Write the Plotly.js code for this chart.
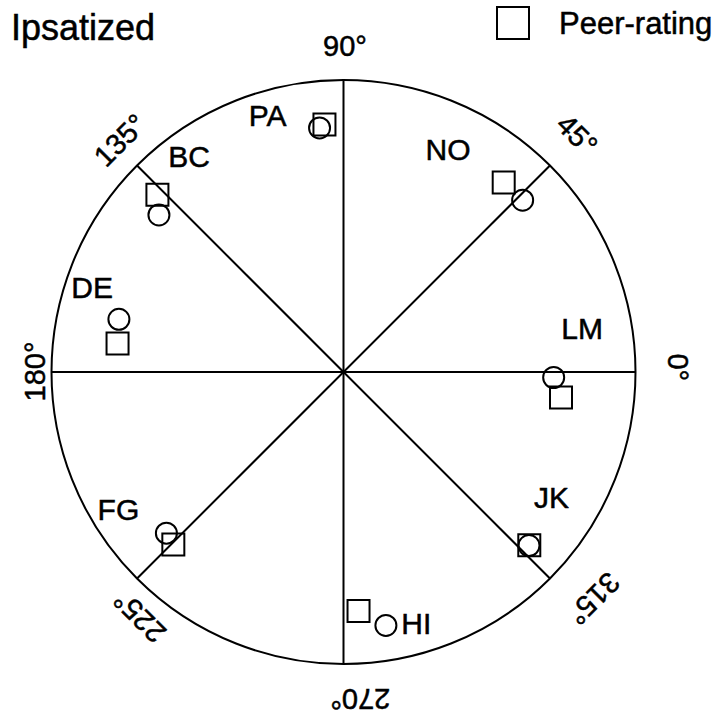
<!DOCTYPE html>
<html>
<head>
<meta charset="utf-8">
<script src="https://cdn.plot.ly/plotly-3.0.1.min.js"></script>
<style>
html,body{margin:0;padding:0;background:#fff;}
#chart{width:717px;height:717px;}
#chart text{stroke:#000;stroke-width:0.5px;}
</style>
</head>
<body>
<div id="chart"></div>
<script>
// ---- data ----
const subjects = ['PA', 'BC', 'NO', 'DE', 'LM', 'FG', 'JK', 'HI'];
const ipsatizedTheta = [95.6, 139.6, 43.8, 166.8, 358.5, 222.3, 316.9, 279.5];
const ipsatizedR     = [0.84, 0.83, 0.85, 0.79, 0.72, 0.82, 0.87, 0.88];
const peerTheta      = [94.4, 136.4, 49.8, 172.8, 353.3, 225.4, 317.0, 273.6];
const peerR          = [0.85, 0.88, 0.85, 0.78, 0.75, 0.83, 0.87, 0.82];
const labelTheta     = [106.7, 126, 64.5, 162, 9.7, 212, 328.3, 286];
const labelR         = [0.905, 0.90, 0.832, 0.905, 0.829, 0.909, 0.837, 0.905];
const angleTicks     = [0, 45, 90, 135, 180, 225, 270, 315];
const angleTickText  = ['0°', '45°', '90°', '135°', '180°', '225°', '270°', '315°'];
const titleText  = 'Ipsatized';
const legendText = 'Peer-rating';

// ---- layout geometry ----
const W = 717, H = 717;
const cx = 343.5, cy = 372, R = 292;
const FONT = 'Liberation Sans, Arial, Helvetica, sans-serif';
// placement of the rotated angle labels outside the circle (pixels from centre, angle nudge)
const tickLabelDist  = [335, 333, 326, 322, 309, 318, 328, 337];
const tickLabelNudge = [0.7, 0.4, -0.3, -1.1, 0, 5.2, 3, 2.8];

const traces = [
  {
    type: 'scatterpolar', mode: 'markers', name: legendText, showlegend: false,
    r: peerR, theta: peerTheta,
    marker: {symbol: 'square-open', size: 22, color: '#000', line: {width: 2, color: '#000'}},
    cliponaxis: false
  },
  {
    type: 'scatterpolar', mode: 'markers', name: titleText, showlegend: false,
    r: ipsatizedR, theta: ipsatizedTheta,
    marker: {symbol: 'circle-open', size: 21, color: '#000', line: {width: 2, color: '#000'}},
    cliponaxis: false
  },
  {
    type: 'scatterpolar', mode: 'text', showlegend: false,
    r: labelR, theta: labelTheta, text: subjects,
    textposition: 'middle center',
    textfont: {family: FONT, size: 30, color: '#000'},
    cliponaxis: false
  }
];

// rotated angular tick labels as annotations
const annotations = angleTicks.map((a, i) => {
  const rad = (a + tickLabelNudge[i]) * Math.PI / 180;
  const rr = tickLabelDist[i];
  const px = cx + rr * Math.cos(rad);
  const py = cy - rr * Math.sin(rad);
  let ang = 90 - a;
  ang = ((ang + 180) % 360 + 360) % 360 - 180;
  return {
    xref: 'paper', yref: 'paper', x: px / W, y: 1 - py / H,
    xanchor: 'center', yanchor: 'middle', showarrow: false,
    text: angleTickText[i], textangle: ang,
    font: {family: FONT, size: 29, color: '#000'}
  };
});
annotations.push({
  xref: 'paper', yref: 'paper', x: 9 / W, y: 1 - 5 / H,
  xanchor: 'left', yanchor: 'top', showarrow: false,
  text: titleText, font: {family: FONT, size: 36, color: '#000'}
});
annotations.push({
  xref: 'paper', yref: 'paper', x: 557 / W, y: 1 - 23 / H,
  xanchor: 'left', yanchor: 'middle', showarrow: false,
  text: legendText, font: {family: FONT, size: 31, color: '#000'}
});

const layout = {
  width: W, height: H, autosize: false,
  margin: {l: 0, r: 0, t: 0, b: 0, pad: 0},
  paper_bgcolor: '#fff', plot_bgcolor: '#fff',
  showlegend: false,
  polar: {
    domain: {x: [(cx - R) / W, (cx + R) / W], y: [1 - (cy + R) / H, 1 - (cy - R) / H]},
    bgcolor: '#fff',
    radialaxis: {range: [0, 1], visible: false, showgrid: false, showline: false, showticklabels: false, ticks: ''},
    angularaxis: {
      rotation: 0, direction: 'counterclockwise',
      tickmode: 'array', tickvals: angleTicks, ticktext: angleTickText,
      showticklabels: false, ticks: '',
      showgrid: true, gridcolor: '#000', gridwidth: 2,
      showline: true, linecolor: '#000', linewidth: 2
    }
  },
  shapes: [{
    type: 'rect', xref: 'paper', yref: 'paper',
    x0: 497 / W, x1: 529 / W, y0: 1 - 39 / H, y1: 1 - 7 / H,
    line: {color: '#000', width: 2}, fillcolor: 'rgba(0,0,0,0)'
  }],
  annotations: annotations
};

Plotly.newPlot('chart', traces, layout, {displayModeBar: false, staticPlot: true});
</script>
</body>
</html>
